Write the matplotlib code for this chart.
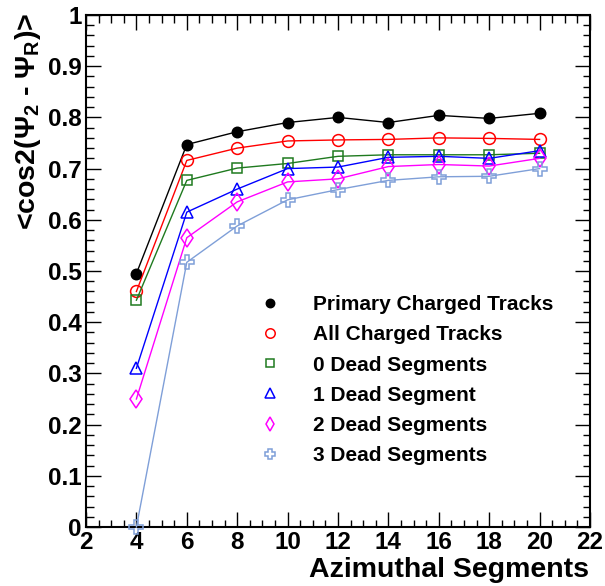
import numpy as np
import matplotlib
matplotlib.use("Agg")
import matplotlib.pyplot as plt
from matplotlib.lines import Line2D
from matplotlib.ticker import MultipleLocator

# azimuthal segments and <cos2(Psi2 - PsiR)> for each case
segments = [4, 6, 8, 10, 12, 14, 16, 18, 20]
primary = [0.495, 0.747, 0.772, 0.790, 0.800, 0.790, 0.804, 0.798, 0.808]
all_charged = [0.460, 0.716, 0.740, 0.754, 0.756, 0.757, 0.760, 0.759, 0.757]
dead0 = [0.443, 0.677, 0.701, 0.710, 0.724, 0.727, 0.727, 0.727, 0.730]
dead1 = [0.310, 0.615, 0.660, 0.700, 0.703, 0.722, 0.724, 0.720, 0.735]
dead2 = [0.250, 0.565, 0.635, 0.674, 0.680, 0.704, 0.708, 0.705, 0.720]
dead3 = [0.000, 0.517, 0.588, 0.639, 0.659, 0.677, 0.684, 0.685, 0.700]

labels = ["Primary Charged Tracks", "All Charged Tracks", "0 Dead Segments",
          "1 Dead Segment", "2 Dead Segments", "3 Dead Segments"]

plt.rcParams['font.family'] = ['Liberation Sans', 'DejaVu Sans']
plt.rcParams['font.weight'] = 'bold'
plt.rcParams['mathtext.fontset'] = 'custom'
plt.rcParams['mathtext.rm'] = 'Liberation Sans:bold'
plt.rcParams['mathtext.it'] = 'Liberation Sans:bold'
plt.rcParams['mathtext.bf'] = 'Liberation Sans:bold'

W, H = 605, 586
fig = plt.figure(figsize=(W / 100, H / 100), dpi=100)
ax = fig.add_axes([86 / W, 1 - 527 / H, (590 - 86) / W, (527 - 15) / H])

series = [primary, all_charged, dead0, dead1, dead2, dead3]
colors = ['black', 'red', '#1f7a1f', 'blue', '#ff00ff', '#7f9fd8']
markers = ['o', 'o', 's', '^', 'd', 'P']
sizes = [7.5, 8.5, 7.5, 8.5, 9.5, 9.5]
filled = [True, False, False, False, False, False]

handles = []
for y, c, m, s, f, lab in zip(series, colors, markers, sizes, filled, labels):
    fc = c if f else 'none'
    ax.plot(segments, y, color=c, lw=1.0, marker=m, ms=s, mfc=fc, mec=c,
            mew=1.1, clip_on=False, zorder=3)
    handles.append(Line2D([], [], ls='none', marker=m, ms=s * 0.8, mfc=fc,
                          mec=c, mew=1.1, label=lab))

ax.set_xlim(2, 22)
ax.set_ylim(0, 1)
ax.xaxis.set_major_locator(MultipleLocator(2))
ax.xaxis.set_minor_locator(MultipleLocator(0.5))
ax.yaxis.set_major_locator(MultipleLocator(0.1))
ax.yaxis.set_minor_locator(MultipleLocator(0.02))
ax.yaxis.set_major_formatter(matplotlib.ticker.FuncFormatter(
    lambda v, p: '%g' % round(v, 2)))

ax.tick_params(which='both', direction='in', top=True, right=True,
               labelsize=17.5, width=1)
ax.tick_params(which='major', length=10.8, pad=3)
ax.tick_params(which='minor', length=5.4)
for sp in ax.spines.values():
    sp.set_linewidth(1.5)

fig.text(28 / W, 1 - 13 / H, r'<cos2($\Psi_{2}$ - $\Psi_{R}$)>', rotation=90,
         ha='center', va='top', fontsize=20.5, fontweight='bold')
fig.text(589 / W, 1 - 577 / H, 'Azimuthal Segments', ha='right',
         va='baseline', fontsize=20.5, fontweight='bold')

ax.legend(handles=handles, loc='upper left',
          bbox_to_anchor=(259.6 / W, 1 - 295 / H),
          bbox_transform=fig.transFigure, frameon=False, fontsize=15,
          handlelength=1.0, handletextpad=1.57, labelspacing=0.54,
          borderpad=0, borderaxespad=0)

fig.savefig('out.png', dpi=100)
